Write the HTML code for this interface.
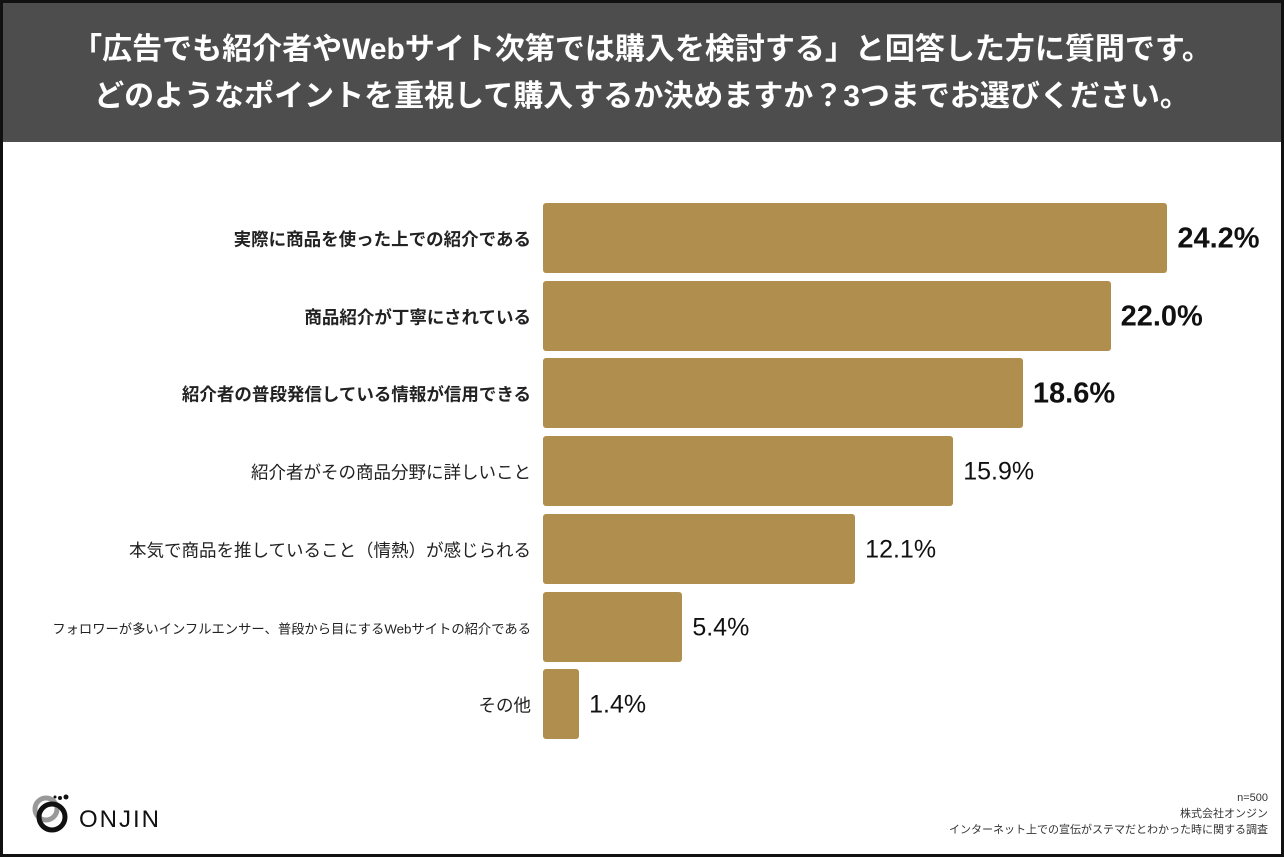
<!DOCTYPE html>
<html><head><meta charset="utf-8"><style>
body{margin:0;width:1284px;height:857px;overflow:hidden;background:#fff;font-family:"Liberation Sans","Noto Sans CJK JP",sans-serif;}
#frame{position:absolute;left:0;top:0;width:1278px;height:851px;border:3px solid #111;}
#header{position:absolute;left:0;top:0;width:1278px;height:139px;background:#4d4d4d;color:#fff;text-align:center;font-size:30px;font-weight:bold;line-height:47px;padding-top:23px;box-sizing:border-box;white-space:nowrap;}
.lbl{position:absolute;right:753px;font-size:17.5px;color:#222;white-space:nowrap;transform:translateY(-50%);}
.bar{position:absolute;left:543px;height:70px;background:#b08f4e;border-radius:3px;}
.val{position:absolute;font-size:25px;color:#111;transform:translateY(-50%);}
#note{position:absolute;right:16px;top:790px;text-align:right;font-size:11px;line-height:16px;color:#333;}
</style></head><body>
<div id="frame">
<div id="header">「広告でも紹介者やWebサイト次第では購入を検討する」と回答した方に質問です。<br>どのようなポイントを重視して購入するか決めますか？3つまでお選びください。</div>
</div>
<div id="chart"></div>
<div style="position:absolute;left:32px;top:793px;">
<svg width="150" height="50">
<circle cx="14" cy="16" r="11" fill="none" stroke="#999" stroke-width="5"/>
<circle cx="20" cy="24" r="13" fill="none" stroke="#111" stroke-width="5"/>
<circle cx="28" cy="5" r="2" fill="#111"/><circle cx="34" cy="4" r="2.5" fill="#111"/><circle cx="23" cy="4" r="1.5" fill="#111"/>
<text x="47" y="34" font-size="24" font-family="Liberation Sans" fill="#111" letter-spacing="2">ONJIN</text>
</svg></div>
<div id="note">n=500<br>株式会社オンジン<br>インターネット上での宣伝がステマだとわかった時に関する調査</div>
<script>
const categories=["実際に商品を使った上での紹介である","商品紹介が丁寧にされている","紹介者の普段発信している情報が信用できる","紹介者がその商品分野に詳しいこと","本気で商品を推していること（情熱）が感じられる","フォロワーが多いインフルエンサー、普段から目にするWebサイトの紹介である","その他"];
const values=[24.2,22.0,18.6,15.9,12.1,5.4,1.4];
const valueLabels=["24.2%","22.0%","18.6%","15.9%","12.1%","5.4%","1.4%"];
const x=v=>v*25.8;
const y=i=>203+i*77.7;
const c=document.getElementById('chart');
values.forEach((v,i)=>{
 const b=document.createElement('div');b.className='bar';
 
 
 b.style.top=y(i)+'px';b.style.width=x(v)+'px';c.appendChild(b);
 const l=document.createElement('div');l.className='lbl';
 
 
 l.textContent=categories[i];l.style.top=(y(i)+36)+'px';
 if(i<3)l.style.fontWeight='bold';
 if(i==5)l.style.fontSize='13.3px';
 c.appendChild(l);
 const t=document.createElement('div');t.className='val';
 
 
 t.textContent=valueLabels[i];t.style.top=(y(i)+36)+'px';t.style.left=(543+x(v)+10)+'px';
 if(i<3){t.style.fontWeight='bold';t.style.fontSize='29px';}
 c.appendChild(t);
});
</script>
</body></html>
